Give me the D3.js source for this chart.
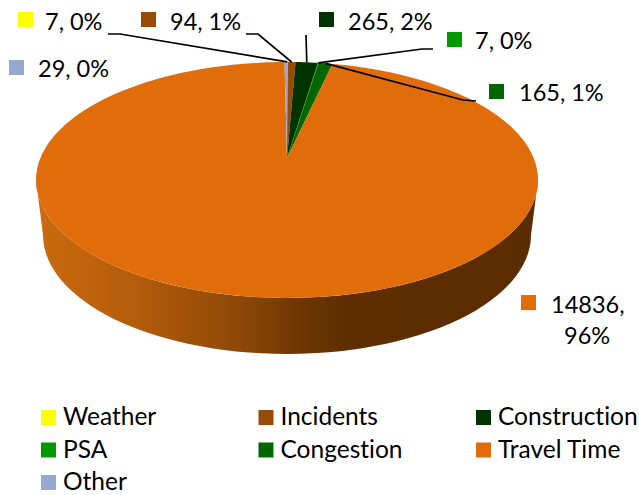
<!DOCTYPE html>
<html>
<head>
<meta charset="utf-8">
<script src="https://cdn.jsdelivr.net/npm/d3@7"></script>
<style>
  html, body { margin: 0; padding: 0; background: #fff; }
  svg { display: block; }
  text { font-family: Lato, "Noto Sans", sans-serif; fill: #000; font-variant-ligatures: none; }
</style>
</head>
<body>
<svg id="chart" width="639" height="495"></svg>
<script>
const categories = ["Weather", "Incidents", "Construction", "PSA", "Congestion", "Travel Time", "Other"];
const values = [7, 94, 265, 7, 165, 14836, 29];
const percents = [0, 1, 2, 0, 1, 96, 0];
const colors = ["#ffff00", "#994a06", "#003300", "#009900", "#006600", "#e16c0a", "#95a9d0"];

// label layout, same order as categories: swatch corner, text start, baseline
const labelPos = [
  {sx: 18, sy: 12, tx: 45, ty: 30, elbow: [[108, 34], [120, 34]]},
  {sx: 141, sy: 12, tx: 170, ty: 30, elbow: [[246, 34], [258, 34]]},
  {sx: 319, sy: 12, tx: 348, ty: 30, elbow: [[306, 35]]},
  {sx: 447, sy: 32, tx: 475, ty: 49, elbow: [[433, 49], [422, 49]]},
  {sx: 489, sy: 84, tx: 519, ty: 101, elbow: [[476, 101], [463, 100]]},
  {sx: 521, sy: 295, tx: 551, ty: 313},
  {sx: 9, sy: 60, tx: 38, ty: 77}
];

const svg = d3.select("#chart");

// outline of the disc as drawn, plus the bottom edge of the side wall
const topFace = {cx: 287, cy: 180, rx: 251, ry: 118};
const bottomFace = {cx: 287, cy: 235, rx: 244, ry: 119};
const ellipsePoint = (e, a) => [e.cx + e.rx * Math.sin(a), e.cy - e.ry * Math.cos(a)];

// perspective: far side is squeezed, so slices meet above the middle of the ellipse
const apex = [287, 158];
const persp = {k: 0.186, ax: 246.6, ay: 113.9};
const rimPoint = a => {
  const t = 1 / (1 + persp.k * Math.cos(a));
  return [apex[0] + persp.ax * Math.sin(a) * t, apex[1] - persp.ay * Math.cos(a) * t];
};

const pie = d3.pie().sort(null).value(d => d.value);
const arcs = pie(categories.map((c, i) => ({name: c, value: values[i], color: colors[i]})));

const line = d3.line();

// Side wall
const defs = svg.append("defs");
const wallGradient = defs.append("linearGradient")
  .attr("id", "wall-gradient")
  .attr("gradientUnits", "userSpaceOnUse")
  .attr("x1", 36).attr("x2", 538).attr("y1", 0).attr("y2", 0);
[[0, "#cc6a0e"], [0.2, "#b35c0a"], [0.4, "#8f4807"], [0.52, "#6e3703"], [0.62, "#5e2e01"], [1, "#5a2c00"]]
  .forEach(s => wallGradient.append("stop").attr("offset", s[0]).attr("stop-color", s[1]));

const halfTurn = d3.range(90, 271, 3).map(d => d * Math.PI / 180);
const wallPoints = halfTurn.map(a => ellipsePoint(topFace, a))
  .concat(halfTurn.slice().reverse().map(a => ellipsePoint(bottomFace, a)));
svg.append("path")
  .attr("d", line(wallPoints) + "Z")
  .attr("fill", "url(#wall-gradient)");

// Top face
svg.selectAll("path.slice")
  .data(arcs)
  .enter()
  .append("path")
  .attr("class", "slice")
  .attr("fill", d => d.data.color)
  .attr("d", d => {
    const steps = Math.max(2, Math.ceil((d.endAngle - d.startAngle) / 0.02));
    const rim = d3.range(steps + 1).map(i =>
      rimPoint(d.startAngle + (d.endAngle - d.startAngle) * i / steps));
    return line([apex].concat(rim)) + "Z";
  });

// Leader lines
arcs.forEach((d, i) => {
  const elbow = labelPos[i].elbow;
  if (!elbow) return;
  const end = rimPoint((d.startAngle + d.endAngle) / 2);
  svg.append("path")
    .attr("d", line(elbow.concat([end])))
    .attr("fill", "none")
    .attr("stroke", "#000")
    .attr("stroke-width", 1.7);
});

// Data labels
const labelSize = 23.5;
arcs.forEach((d, i) => {
  const p = labelPos[i];
  svg.append("rect")
    .attr("x", p.sx).attr("y", p.sy)
    .attr("width", 15).attr("height", 15)
    .attr("fill", colors[i]);
  if (categories[i] === "Travel Time") {
    svg.append("text").attr("x", p.tx).attr("y", p.ty)
      .attr("font-size", labelSize).text(values[i] + ",");
    svg.append("text").attr("x", p.tx + 13).attr("y", p.ty + 31)
      .attr("font-size", labelSize).text(percents[i] + "%");
  } else {
    svg.append("text").attr("x", p.tx).attr("y", p.ty)
      .attr("font-size", labelSize).text(values[i] + ", " + percents[i] + "%");
  }
});

// Legend
const legendX = d3.scalePoint().domain([0, 1, 2]).range([41, 476]);
const legendY = d3.scalePoint().domain([0, 1, 2]).range([410, 475]);
const legend = svg.selectAll("g.legend")
  .data(categories)
  .enter()
  .append("g")
  .attr("class", "legend")
  .attr("transform", (d, i) => `translate(${legendX(i % 3)},${legendY(Math.floor(i / 3))})`);
legend.append("rect")
  .attr("width", 15).attr("height", 15)
  .attr("fill", (d, i) => colors[i]);
legend.append("text")
  .attr("x", 22).attr("y", 15)
  .attr("font-size", 24.5)
  .text(d => d);
</script>
</body>
</html>
